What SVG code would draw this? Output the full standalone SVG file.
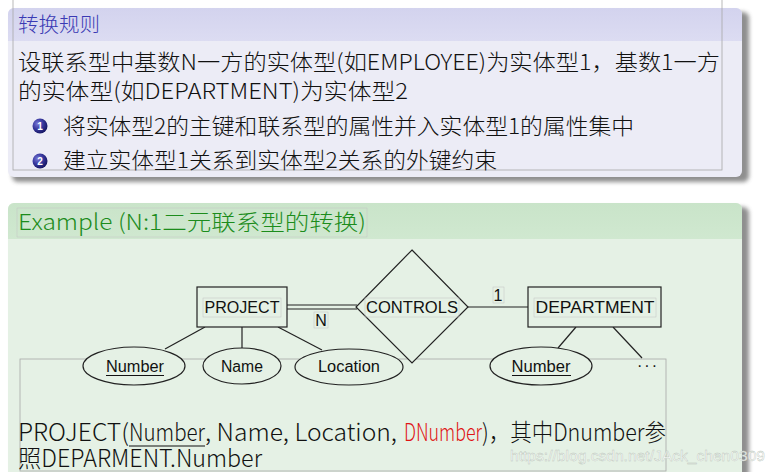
<svg xmlns="http://www.w3.org/2000/svg" width="773" height="472" viewBox="0 0 773 472">
<defs>
<filter id="sh" x="-5%" y="-5%" width="110%" height="110%"><feGaussianBlur stdDeviation="2"/></filter>
<linearGradient id="hdrB" x1="0" y1="0" x2="0" y2="1"><stop offset="0" stop-color="#d3d3ee"/><stop offset="1" stop-color="#dcdcf2"/></linearGradient>
<linearGradient id="hdrG" x1="0" y1="0" x2="0" y2="1"><stop offset="0" stop-color="#c9e4c9"/><stop offset="1" stop-color="#d0e8d0"/></linearGradient>
<radialGradient id="ball" cx="0.35" cy="0.35" r="0.7"><stop offset="0" stop-color="#7a7ad8"/><stop offset="0.5" stop-color="#3a3aa0"/><stop offset="1" stop-color="#141460"/></radialGradient>
<clipPath id="clipB"><rect x="8" y="8" width="734" height="169" rx="6"/></clipPath>
<clipPath id="clipG"><rect x="8" y="203" width="734" height="290" rx="6"/></clipPath>
</defs>
<style>
.cjk{font-family:"Noto Sans CJK SC","Noto Sans",sans-serif;font-weight:300;}
.er{font-family:"Liberation Sans","DejaVu Sans",sans-serif;font-size:16px;fill:#111;}
.shape{fill:#e5f1e5;stroke:#222;stroke-width:1.2;}
.edge{stroke:#222;stroke-width:1.2;fill:none;}
.frame{fill:none;stroke:#a8a8a8;stroke-width:0.8;}
.tbox{fill:none;stroke:#c4c4c4;stroke-width:0.5;}
</style>
<rect width="773" height="472" fill="#ffffff"/>

<!-- top block: 转换规则 -->
<g id="rule-block">
<rect x="12" y="12" width="737" height="170" rx="6" fill="#444" opacity="0.6" filter="url(#sh)"/>
<g clip-path="url(#clipB)">
<rect x="8" y="8" width="734" height="169" fill="#ececf6"/>
<rect x="8" y="8" width="734" height="33" fill="url(#hdrB)"/>
</g>
<rect class="frame" x="13" y="-2" width="709" height="172"/>
<text class="cjk" x="18" y="32" font-size="20" fill="#3a3ab4" textLength="82" lengthAdjust="spacingAndGlyphs">转换规则</text>
<text class="cjk" x="18" y="70" font-size="22" fill="#111" textLength="702" lengthAdjust="spacingAndGlyphs">设联系型中基数N一方的实体型(如EMPLOYEE)为实体型1，基数1一方</text>
<text class="cjk" x="18" y="99" font-size="22" fill="#111" textLength="390" lengthAdjust="spacingAndGlyphs">的实体型(如DEPARTMENT)为实体型2</text>
<circle cx="40" cy="126" r="7.5" fill="url(#ball)"/>
<text x="40" y="130" font-family="Liberation Sans,sans-serif" font-size="10" font-weight="bold" fill="#fff" text-anchor="middle">1</text>
<text class="cjk" x="63" y="134" font-size="22" fill="#111" textLength="571" lengthAdjust="spacingAndGlyphs">将实体型2的主键和联系型的属性并入实体型1的属性集中</text>
<circle cx="40" cy="161" r="7.5" fill="url(#ball)"/>
<text x="40" y="165" font-family="Liberation Sans,sans-serif" font-size="10" font-weight="bold" fill="#fff" text-anchor="middle">2</text>
<text class="cjk" x="63" y="168" font-size="22" fill="#111" textLength="434" lengthAdjust="spacingAndGlyphs">建立实体型1关系到实体型2关系的外键约束</text>
</g>

<!-- bottom block: Example -->
<g id="example-block">
<rect x="12" y="207" width="737" height="290" rx="6" fill="#444" opacity="0.6" filter="url(#sh)"/>
<g clip-path="url(#clipG)">
<rect x="8" y="203" width="734" height="290" fill="#e5f1e5"/>
<rect x="8" y="203" width="734" height="36" fill="url(#hdrG)"/>
</g>
<rect class="tbox" x="17" y="208" width="350" height="29"/>
<text class="cjk" x="18" y="230" font-size="22" fill="#1c8c1c" textLength="348" lengthAdjust="spacingAndGlyphs">Example (N:1二元联系型的转换)</text>
<rect class="frame" x="20" y="359" width="646" height="112"/>
</g>

<!-- connectors -->
<g id="connectors">
<line class="edge" x1="287" y1="305" x2="357" y2="305"/>
<line class="edge" x1="287" y1="309" x2="357" y2="309"/>
<line class="edge" x1="468" y1="307" x2="528" y2="307"/>
<line class="edge" x1="205" y1="327" x2="165" y2="349"/>
<line class="edge" x1="242" y1="327" x2="242" y2="348"/>
<line class="edge" x1="278" y1="327" x2="322" y2="350"/>
<line class="edge" x1="576" y1="327" x2="558" y2="348"/>
<line class="edge" x1="613" y1="327" x2="642" y2="358"/>
<rect class="tbox" x="314" y="312" width="14" height="16"/>
<text class="er" x="321" y="326" text-anchor="middle">N</text>
<rect class="tbox" x="493" y="287" width="11" height="16"/>
<text class="er" x="498" y="301" text-anchor="middle">1</text>
</g>

<g id="node-project">
<rect class="shape" x="197" y="287" width="90" height="40"/>
<rect class="tbox" x="203" y="298" width="78" height="19"/>
<text class="er" x="242" y="313" text-anchor="middle" textLength="75" lengthAdjust="spacingAndGlyphs">PROJECT</text>
</g>

<g id="node-controls">
<polygon class="shape" points="412,250 468,307 412,363 356,307"/>
<rect class="tbox" x="365" y="298" width="94" height="19"/>
<text class="er" x="412" y="313" text-anchor="middle" textLength="92" lengthAdjust="spacingAndGlyphs">CONTROLS</text>
</g>

<g id="node-department">
<rect class="shape" x="528" y="287" width="133" height="40"/>
<rect class="tbox" x="534" y="298" width="122" height="19"/>
<text class="er" x="595" y="313" text-anchor="middle" textLength="119" lengthAdjust="spacingAndGlyphs">DEPARTMENT</text>
</g>

<g id="attr-p-number">
<ellipse class="shape" cx="134" cy="366" rx="51" ry="19"/>
<text class="er" x="135" y="372" text-anchor="middle" textLength="58" lengthAdjust="spacingAndGlyphs">Number</text>
<line x1="106" y1="375.5" x2="164" y2="375.5" stroke="#111" stroke-width="1"/>
</g>

<g id="attr-p-name">
<ellipse class="shape" cx="242" cy="366" rx="39" ry="18"/>
<text class="er" x="242" y="372" text-anchor="middle" textLength="42" lengthAdjust="spacingAndGlyphs">Name</text>
</g>

<g id="attr-p-location">
<ellipse class="shape" cx="349" cy="367" rx="54" ry="18"/>
<text class="er" x="349" y="372" text-anchor="middle" textLength="62" lengthAdjust="spacingAndGlyphs">Location</text>
</g>

<g id="attr-d-number">
<ellipse class="shape" cx="541" cy="366" rx="51" ry="19"/>
<text class="er" x="541" y="372" text-anchor="middle" textLength="59" lengthAdjust="spacingAndGlyphs">Number</text>
<line x1="512" y1="375.5" x2="571" y2="375.5" stroke="#111" stroke-width="1"/>
</g>

<g id="attr-more">
<text class="er" x="637" y="371" textLength="20" lengthAdjust="spacing">···</text>
</g>

<g id="relation-text">
<text class="cjk" x="18" y="441" font-size="24" fill="#111" textLength="111" lengthAdjust="spacingAndGlyphs">PROJECT(</text>
<text class="cjk" x="129" y="441" font-size="24" fill="#111" textLength="76" lengthAdjust="spacingAndGlyphs">Number</text>
<line x1="129" y1="446" x2="205" y2="446" stroke="#111" stroke-width="1.1"/>
<text class="cjk" x="205" y="441" font-size="24" fill="#111" textLength="192" lengthAdjust="spacingAndGlyphs">, Name, Location,</text>
<text class="cjk" x="404" y="441" font-size="24" fill="#e01414" textLength="78" lengthAdjust="spacingAndGlyphs">DNumber</text>
<text class="cjk" x="482" y="441" font-size="24" fill="#111" textLength="184" lengthAdjust="spacingAndGlyphs">)，其中Dnumber参</text>
<text class="cjk" x="18" y="467" font-size="24" fill="#111" textLength="244" lengthAdjust="spacingAndGlyphs">照DEPARMENT.Number</text>
</g>

<text x="510" y="461" font-family="Liberation Sans,sans-serif" font-size="15" fill="#ffffff" fill-opacity="0.85" stroke="#b8c4b8" stroke-width="0.4" textLength="255" lengthAdjust="spacingAndGlyphs">https://blog.csdn.net/JAck_chen0309</text>
</svg>
